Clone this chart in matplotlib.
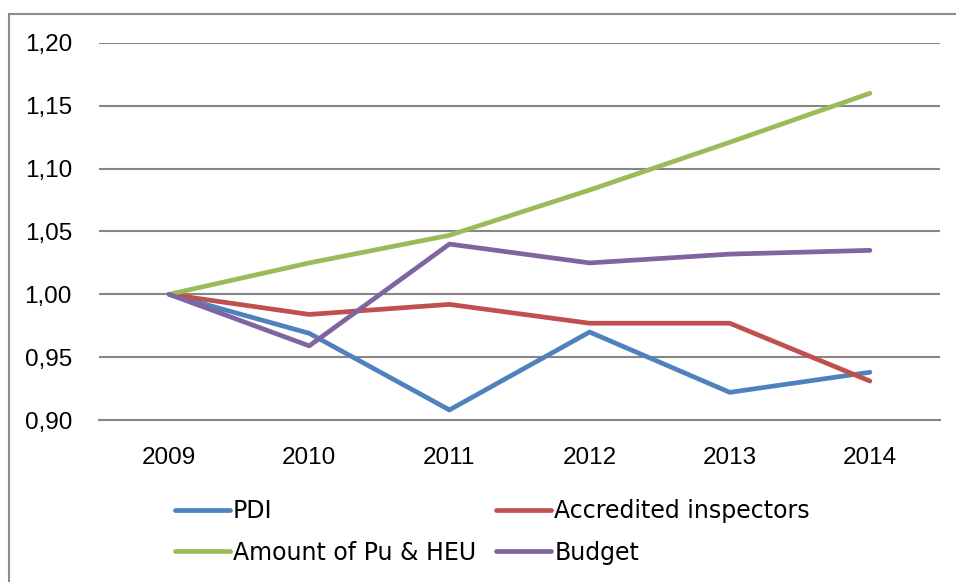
import matplotlib
matplotlib.use('Agg')
import matplotlib.pyplot as plt
from matplotlib.patches import Rectangle
from matplotlib.ticker import FuncFormatter

years = ['2009', '2010', '2011', '2012', '2013', '2014']
pdi = [1.000, 0.969, 0.908, 0.970, 0.922, 0.938]
inspectors = [1.000, 0.984, 0.992, 0.977, 0.977, 0.931]
pu_heu = [1.000, 1.025, 1.047, 1.083, 1.121, 1.160]
budget = [1.000, 0.959, 1.040, 1.025, 1.032, 1.035]

W, H = 956, 582
fig = plt.figure(figsize=(W / 100, H / 100), dpi=100)
ax = fig.add_axes([99 / W, 1 - 420 / H, (940 - 99) / W, (420 - 43) / H])

x = range(len(years))
lw = 3.4
l1, = ax.plot(x, pdi, color='#4F81BD', lw=lw, label='PDI', solid_capstyle='round')
l2, = ax.plot(x, inspectors, color='#C0504D', lw=lw, label='Accredited inspectors', solid_capstyle='round')
l3, = ax.plot(x, pu_heu, color='#9BBB59', lw=lw, label='Amount of Pu & HEU', solid_capstyle='round')
l4, = ax.plot(x, budget, color='#8064A2', lw=lw, label='Budget', solid_capstyle='round')

ax.set_xlim(-0.5, len(years) - 0.5)
ax.set_ylim(0.90, 1.20)
ax.set_yticks([0.90, 0.95, 1.00, 1.05, 1.10, 1.15, 1.20])
ax.yaxis.set_major_formatter(FuncFormatter(lambda v, p: f'{v:.2f}'.replace('.', ',')))
ax.set_xticks(list(x))
ax.set_xticklabels(years)
ax.grid(axis='y', color='#868686', lw=1.5)
ax.set_axisbelow(True)
for s in ['top', 'right', 'left']:
    ax.spines[s].set_visible(False)
ax.spines['bottom'].set_color('#868686')
ax.spines['bottom'].set_linewidth(1.5)
ax.tick_params(length=0, labelsize=17.5)
ax.tick_params(axis='y', pad=19.5)
ax.tick_params(axis='x', pad=19.5)
for t in ax.get_xticklabels() + ax.get_yticklabels():
    t.set_fontfamily('Liberation Sans')

fig.legend(handles=[l1, l3, l2, l4], ncol=2, loc='upper left',
           bbox_to_anchor=(175 / W, 1 - 499 / H), frameon=False,
           prop={'family': 'DejaVu Sans', 'size': 17},
           handlelength=2.33, handletextpad=0.13, columnspacing=0.85,
           labelspacing=0.75, borderaxespad=0, borderpad=0)

fig.patches.append(Rectangle((9 / W, -0.05), 1.2, 1 - 14 / H + 0.05,
                             transform=fig.transFigure, fill=False,
                             edgecolor='#8c8c8c', lw=1.5))

fig.savefig('out.png', dpi=100)
